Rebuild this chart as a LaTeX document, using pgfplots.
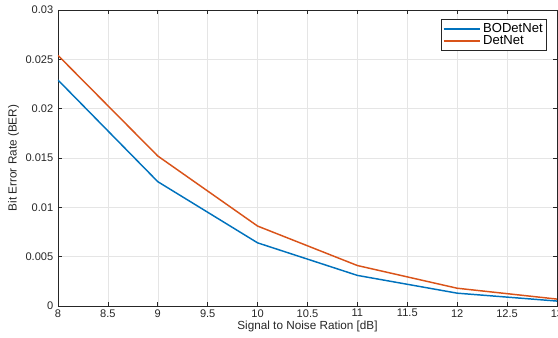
\documentclass[border=0pt]{standalone}
\usepackage{pgfplots}
\pgfplotsset{compat=1.18}
\usepackage{fontspec}
\setmainfont{Liberation Sans}
\definecolor{mblue}{rgb}{0,0.447,0.741}
\definecolor{morange}{rgb}{0.850,0.325,0.098}
\definecolor{axgray}{rgb}{0.15,0.15,0.15}
\begin{document}
\begin{tikzpicture}
\begin{axis}[
  scale only axis,
  width=374.25pt, height=222pt,
  xmin=8, xmax=13, ymin=0, ymax=0.03,
  xtick={8,8.5,...,13},
  xticklabels={8,8.5,9,9.5,10,10.5,11,11.5,12,12.5,13},
  ytick={0,0.005,0.01,0.015,0.02,0.025,0.03},
  yticklabels={0,0.005,0.01,0.015,0.02,0.025,0.03},
  scaled y ticks=false,
  grid=major,
  major grid style={gray!20, line width=0.4pt},
  axis line style={axgray, line width=0.5pt},
  tick style={axgray, line width=0.5pt},
  tick align=inside,
  major tick length=3pt,
  ticklabel style={font=\fontsize{8.3}{9}\selectfont, text=axgray},
  xticklabel style={yshift=1pt},
  xlabel={Signal to Noise Ration [dB]},
  ylabel={Bit Error Rate (BER)},
  label style={font=\fontsize{8.8}{10}\selectfont, text=axgray},
  xlabel style={yshift=4pt},
  ylabel style={yshift=-2pt},
  legend style={at={(0.98,0.97)}, anchor=north east, font=\fontsize{9.8}{10}\selectfont, draw=axgray, line width=0.5pt, inner sep=1pt, row sep=-3pt},
  legend cell align=left,
  legend image post style={line width=1.1pt},
  legend image code/.code={\draw[#1] (0cm,0cm) -- (0.95cm,0cm);},
]
\addplot[mblue, line width=1.1pt] coordinates {(8,0.0229) (9,0.0126) (10,0.0064) (11,0.0031) (12,0.0013) (13,0.0005)};
\addlegendentry{BODetNet}
\addplot[morange, line width=1.1pt] coordinates {(8,0.0254) (9,0.0152) (10,0.0081) (11,0.0041) (12,0.0018) (13,0.0007)};
\addlegendentry{DetNet}
\end{axis}
\pgfresetboundingbox
\useasboundingbox (-43.5pt,-24pt) rectangle (375pt,229.5pt);
\end{tikzpicture}
\end{document}
